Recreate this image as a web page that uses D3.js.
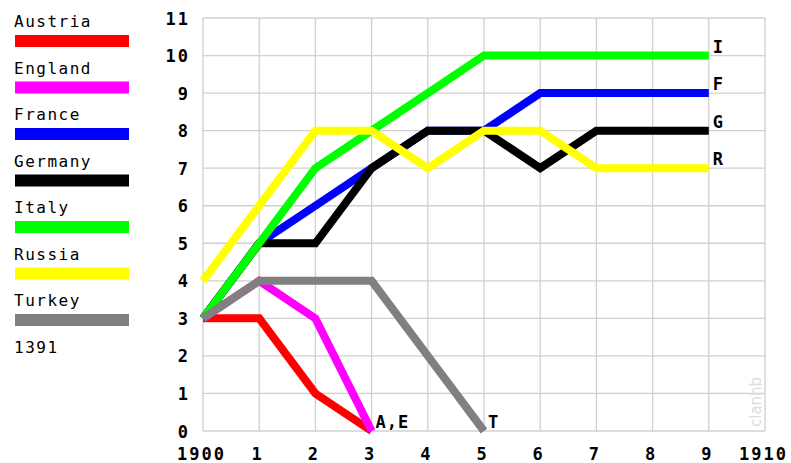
<!DOCTYPE html>
<html>
<head>
<meta charset="utf-8">
<script src="https://cdn.jsdelivr.net/npm/d3@7/dist/d3.min.js"></script>
<style>
    html, body { margin: 0; padding: 0; background: #fff; }
    svg { display: block; }
    .tick text { font-family: "DejaVu Sans Mono", monospace; font-weight: bold; font-size: 17px; fill: #000; letter-spacing: 2px; }
</style>
</head>
<body>
<svg id="chart" width="791" height="463"></svg>
<script>
// supply centre counts per power, 1900 .. 1909 (series stop when a power is out)
const years = [0, 1, 2, 3, 4, 5, 6, 7, 8, 9];
const powers = ["Austria", "England", "France", "Germany", "Italy", "Russia", "Turkey"];
const colors = ["#ff0000", "#ff00ff", "#0000ff", "#000000", "#00ff00", "#ffff00", "#808080"];
const austria = [3, 3, 1, 0];
const england = [3, 4, 3, 0];
const france = [3, 5, 6, 7, 8, 8, 9, 9, 9, 9];
const germany = [3, 5, 5, 7, 8, 8, 7, 8, 8, 8];
const italy = [3, 5, 7, 8, 9, 10, 10, 10, 10, 10];
const russia = [4, 6, 8, 8, 7, 8, 8, 7, 7, 7];
const turkey = [3, 4, 4, 4, 2, 0];
const seriesValues = [austria, england, france, germany, italy, russia, turkey];
// end-of-line labels: [text, x, y]
const endLabels = [["A,E", 3, 0], ["T", 5, 0], ["I", 9, 10], ["F", 9, 9], ["G", 9, 8], ["R", 9, 7]];
const xTicks = [0, 1, 2, 3, 4, 5, 6, 7, 8, 9, 10];
const xTickLabels = ["1900", "1", "2", "3", "4", "5", "6", "7", "8", "9", "1910"];
const yTicks = [0, 1, 2, 3, 4, 5, 6, 7, 8, 9, 10, 11];
const footnote = "1391";
const watermark = "clanhb";

const svg = d3.select("#chart");
const plot = {left: 203, right: 765, top: 18, bottom: 431};

const x = d3.scaleLinear().domain([0, 10]).range([plot.left, plot.right]);
const y = d3.scaleLinear().domain([0, 11]).range([plot.bottom, plot.top]);

// grid
const grid = svg.append("g");
grid.selectAll("line.v").data(xTicks).enter().append("line")
    .attr("x1", d => x(d)).attr("x2", d => x(d))
    .attr("y1", plot.top).attr("y2", plot.bottom)
    .attr("stroke", "#d0d0d0").attr("stroke-width", 1.3);
grid.selectAll("line.h").data(yTicks).enter().append("line")
    .attr("x1", plot.left).attr("x2", plot.right)
    .attr("y1", d => y(d)).attr("y2", d => y(d))
    .attr("stroke", "#d0d0d0").attr("stroke-width", 1.3);

// axes (labels only)
const xAxis = svg.append("g")
    .attr("transform", `translate(0,${plot.bottom})`)
    .call(d3.axisBottom(x).tickValues(xTicks).tickSize(0).tickFormat((d, i) => xTickLabels[i]));
xAxis.select(".domain").remove();
xAxis.selectAll("text").attr("dy", 0).attr("y", 29).attr("dx", -2);

const yAxis = svg.append("g")
    .attr("transform", `translate(${plot.left},0)`)
    .call(d3.axisLeft(y).tickValues(yTicks).tickSize(0));
yAxis.select(".domain").remove();
yAxis.selectAll("text").attr("dy", 0).attr("y", 6).attr("x", -13);

// watermark
svg.append("text")
    .attr("transform", `translate(${x(10) - 4},${y(0) - 4}) rotate(-90)`)
    .style("font-family", "DejaVu Sans, sans-serif")
    .style("font-size", "15px")
    .attr("fill", "#dcdcdc")
    .text(watermark);

// lines
const line = d3.line().x((d, i) => x(years[i])).y(d => y(d)).curve(d3.curveLinear);
svg.append("g").selectAll("path")
    .data(seriesValues)
    .enter().append("path")
    .attr("d", line)
    .attr("fill", "none")
    .attr("stroke", (d, i) => colors[i])
    .attr("stroke-width", 8)
    .attr("stroke-linejoin", "miter")
    .attr("stroke-miterlimit", 3);

// end labels
svg.append("g").selectAll("text")
    .data(endLabels)
    .enter().append("text")
    .attr("x", d => x(d[1]) + 4)
    .attr("y", d => y(d[2]) - 3)
    .style("font-family", "DejaVu Sans Mono, monospace")
    .style("font-weight", "bold")
    .style("font-size", "17px")
    .style("letter-spacing", "1px")
    .text(d => d[0]);

// legend
const legend = svg.append("g").selectAll("g")
    .data(powers)
    .enter().append("g")
    .attr("transform", (d, i) => `translate(14,${27 + i * 46.5})`);
legend.append("text")
    .style("font-family", "DejaVu Sans Mono, monospace")
    .style("font-size", "16px")
    .style("letter-spacing", "1.5px")
    .text(d => d);
legend.append("rect")
    .attr("x", 1).attr("y", 8)
    .attr("width", 114).attr("height", 12)
    .attr("fill", (d, i) => colors[i]);

svg.append("text")
    .attr("x", 14).attr("y", 27 + 7 * 46.5)
    .style("font-family", "DejaVu Sans Mono, monospace")
    .style("font-size", "16px")
    .style("letter-spacing", "1.5px")
    .text(footnote);
</script>
</body>
</html>
